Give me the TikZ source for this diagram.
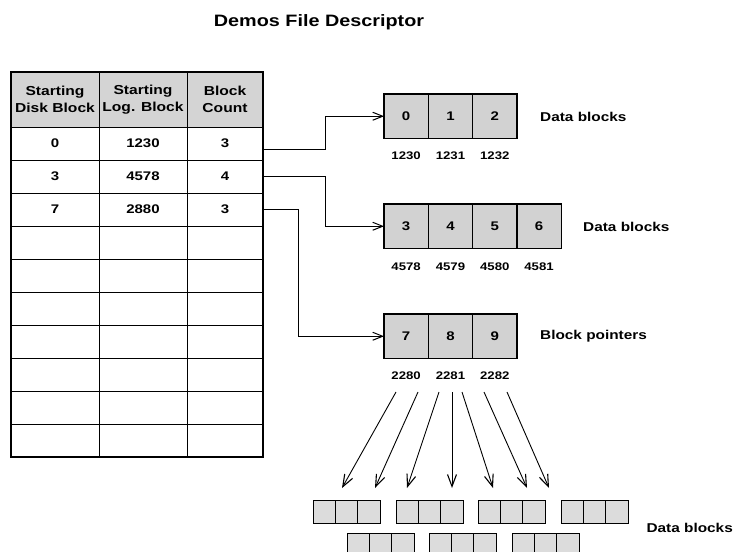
\documentclass[tikz,border=0pt]{standalone}
\usepackage{fontspec}
\setmainfont{Liberation Sans}[FakeStretch=1.2]
\usetikzlibrary{arrows.meta}
\definecolor{blkgray}{HTML}{D2D2D2}
\definecolor{smallgray}{HTML}{DCDCDC}
\definecolor{hdrgray}{HTML}{D4D4D4}
\begin{document}
\begin{tikzpicture}[x=1pt,y=-1pt,
  titlef/.style={font=\bfseries\fontsize{16.5}{20}\selectfont},
  hdr/.style={font=\bfseries\fontsize{13}{16.5}\selectfont, align=center, inner sep=0},
  tnum/.style={font=\bfseries\fontsize{12.5}{14}\selectfont, inner sep=0},
  lbl/.style={font=\bfseries\fontsize{12.8}{15}\selectfont, anchor=west, inner sep=0},
  sub/.style={font=\bfseries\fontsize{11}{12}\selectfont, inner sep=0},
  blk/.style={draw, line width=1.3pt, fill=blkgray, minimum width=44.3pt, minimum height=44.5pt,
              inner sep=0, outer sep=0, font=\bfseries\fontsize{12.5}{14}\selectfont},
  sbox/.style={draw, line width=0.8pt, fill=smallgray},
  conn/.style={line width=0.9pt, -{Straight Barb[length=10pt,width=8pt,line width=1pt]}},
  ptr/.style={line width=0.9pt, -{Straight Barb[length=12pt,width=9pt,line width=1.1pt]}}]
\clip (0,0) rectangle (735,551);
\fill[white] (0,0) rectangle (735,551);

% title
\node[titlef] (title) at (319,22) {Demos File Descriptor};

% table
\fill[hdrgray] (11,72) rectangle (263,127);
\foreach \yy in {127,160,...,424} \draw[line width=1pt] (11,\yy) -- (263,\yy);
\draw[line width=1pt] (99,72) -- (99,457) (187,72) -- (187,457);
\draw[line width=2pt] (11,72) rectangle (263,457);
\node[hdr] (h1) at (55,99.5) {Starting\\Disk Block};
\node[hdr] (h2) at (143,99.5) {Starting\\Log. Block};
\node[hdr] (h3) at (225,99.5) {Block\\Count};
\node[tnum] (t01) at (55,143.5) {0};
\node[tnum] (t02) at (143,143.5) {1230};
\node[tnum] (t03) at (225,143.5) {3};
\node[tnum] (t11) at (55,176.5) {3};
\node[tnum] (t12) at (143,176.5) {4578};
\node[tnum] (t13) at (225,176.5) {4};
\node[tnum] (t21) at (55,209.5) {7};
\node[tnum] (t22) at (143,209.5) {2880};
\node[tnum] (t23) at (225,209.5) {3};
\coordinate (r0) at (264,149);
\coordinate (r1) at (264,176);
\coordinate (r2) at (264,209);

% block row 1
\node[blk, anchor=north west] (b0) at (384,94) {0};
\node[blk, anchor=west] (b1) at (b0.east) {1};
\node[blk, anchor=west] (b2) at (b1.east) {2};
\node[sub] at ([yshift=-17pt]b0.south) {1230};
\node[sub] at ([yshift=-17pt]b1.south) {1231};
\node[sub] at ([yshift=-17pt]b2.south) {1232};
\node[lbl] (L1) at (540,117) {Data blocks};

% block row 2
\node[blk, anchor=north west] (c0) at (384,204) {3};
\node[blk, anchor=west] (c1) at (c0.east) {4};
\node[blk, anchor=west] (c2) at (c1.east) {5};
\node[blk, anchor=west] (c3) at (c2.east) {6};
\node[sub] at ([yshift=-18pt]c0.south) {4578};
\node[sub] at ([yshift=-18pt]c1.south) {4579};
\node[sub] at ([yshift=-18pt]c2.south) {4580};
\node[sub] at ([yshift=-18pt]c3.south) {4581};
\node[lbl] (L2) at (583,227) {Data blocks};

% block row 3
\node[blk, anchor=north west] (d0) at (384,314) {7};
\node[blk, anchor=west] (d1) at (d0.east) {8};
\node[blk, anchor=west] (d2) at (d1.east) {9};
\node[sub] at ([yshift=-17pt]d0.south) {2280};
\node[sub] at ([yshift=-17pt]d1.south) {2281};
\node[sub] at ([yshift=-17pt]d2.south) {2282};
\node[lbl] (L3) at (540,336) {Block pointers};

% connectors from table
\draw[conn] (r0) -- ++(61,0) |- (b0.west);
\draw[conn] (r1) -- ++(61,0) |- (c0.west);
\draw[conn] (r2) -- ++(34,0) |- (d0.west);

% small data blocks
\foreach \gx/\gy [count=\g] in {313/500,396/500,478/500,561/500,347/533,429/533,512/533}{
  \foreach \k in {0,1,2}{
    \draw[sbox] (\gx+\k*22.33,\gy) rectangle (\gx+\k*22.33+22.33,\gy+23);
  }
}
\node[lbl, anchor=east] (L4) at (733,528) {Data blocks};

% pointer arrows
\foreach \sx/\ex [count=\i] in {396/342,418/375,439/407,452/452,462/493,484/527,507/549}{
  \coordinate (p\i) at (\sx,392);
  \coordinate (q\i) at (\ex,488);
  \draw[ptr] (p\i) -- (q\i);
}
\end{tikzpicture}
\end{document}
